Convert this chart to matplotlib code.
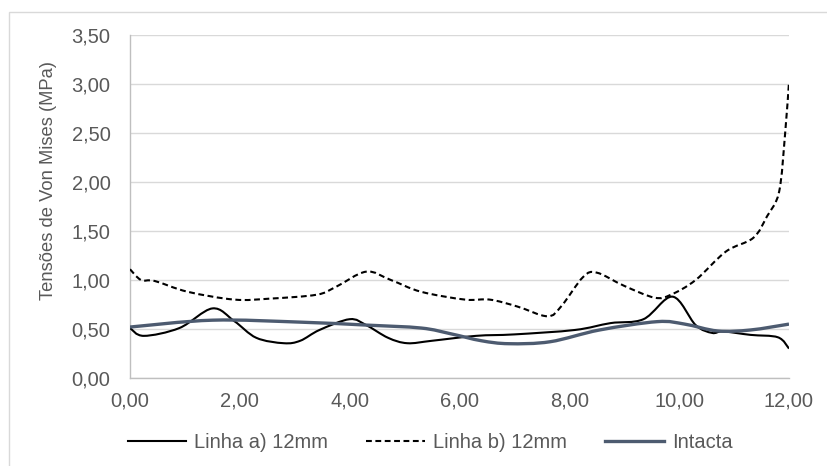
import matplotlib
matplotlib.use("Agg")
import matplotlib.pyplot as plt
from matplotlib.path import Path
from matplotlib.patches import PathPatch, Rectangle
from matplotlib.lines import Line2D
from matplotlib.ticker import FuncFormatter, MultipleLocator

plt.rcParams['font.family'] = ['Liberation Sans', 'DejaVu Sans']

# Von Mises stress along each line (position in mm, stress in MPa)
linha_a_x = [0, 0.25, 0.9, 1.5, 1.9, 2.3, 2.8, 3.1, 3.45, 4.0, 4.3, 4.7, 5.05, 5.5,
             6.3, 7.0, 8.1, 8.75, 9.35, 9.88, 10.3, 10.6, 10.8, 11.3, 11.8, 12.0]
linha_a_y = [0.51, 0.43, 0.51, 0.71, 0.58, 0.41, 0.355, 0.38, 0.49, 0.60, 0.54, 0.41,
             0.355, 0.38, 0.43, 0.445, 0.49, 0.56, 0.60, 0.83, 0.54, 0.46, 0.475, 0.44,
             0.415, 0.30]

linha_b_x = [0, 0.2, 0.45, 1.05, 1.9, 2.55, 3.4, 3.75, 4.3, 4.75, 5.3, 6.1, 6.55, 7.05,
             7.6, 7.85, 8.25, 8.5, 9.0, 9.55, 9.85, 10.3, 10.85, 11.35, 11.6, 11.82,
             11.93, 12.0]
linha_b_y = [1.11, 1.00, 0.99, 0.88, 0.80, 0.81, 0.85, 0.93, 1.085, 1.00, 0.88, 0.80,
             0.80, 0.73, 0.63, 0.73, 1.03, 1.075, 0.94, 0.82, 0.85, 1.00, 1.29, 1.43,
             1.65, 1.90, 2.50, 3.02]

intacta_x = [0, 1.5, 3.1, 4.3, 5.3, 5.85, 6.4, 6.9, 7.65, 8.55, 9.6, 10.1, 10.7, 11.3, 12.0]
intacta_y = [0.52, 0.59, 0.57, 0.54, 0.51, 0.45, 0.38, 0.35, 0.37, 0.49, 0.575, 0.55,
             0.48, 0.49, 0.55]

series_labels = ["Linha a) 12mm", "Linha b) 12mm", "Intacta"]

TEXT_COLOR = "#595959"
GRID_COLOR = "#d9d9d9"
INTACTA_COLOR = "#4d5b70"
FONT_SIZE = 14.5


def smooth_path(xs, ys):
    """Cubic Bezier path through the points (Catmull-Rom tangents)."""
    pts = list(zip(xs, ys))
    n = len(pts)
    verts = [pts[0]]
    codes = [Path.MOVETO]
    for i in range(n - 1):
        p0 = pts[i - 1] if i > 0 else pts[i]
        p1 = pts[i]
        p2 = pts[i + 1]
        p3 = pts[i + 2] if i + 2 < n else pts[i + 1]
        c1 = (p1[0] + (p2[0] - p0[0]) / 6.0, p1[1] + (p2[1] - p0[1]) / 6.0)
        c2 = (p2[0] - (p3[0] - p1[0]) / 6.0, p2[1] - (p3[1] - p1[1]) / 6.0)
        verts += [c1, c2, p2]
        codes += [Path.CURVE4] * 3
    return Path(verts, codes)


fig = plt.figure(figsize=(8.28, 4.66), dpi=100)
ax = fig.add_axes([130 / 828, 1 - 378 / 466, 659 / 828, 343 / 466])

styles = [
    dict(color="black", lw=1.5, linestyle="-"),
    dict(color="black", lw=1.5, linestyle=(0, (2.8, 1.7))),
    dict(color=INTACTA_COLOR, lw=2.4, linestyle="-"),
]
data = [(linha_a_x, linha_a_y), (linha_b_x, linha_b_y), (intacta_x, intacta_y)]
order = [2, 0, 1]
for k in order:
    xs, ys = data[k]
    st = styles[k]
    patch = PathPatch(smooth_path(xs, ys), fill=False, edgecolor=st["color"],
                      lw=st["lw"], linestyle=st["linestyle"], capstyle="butt",
                      joinstyle="round", zorder=3 + k)
    ax.add_patch(patch)

ax.set_xlim(0, 12)
ax.set_ylim(0, 3.5)
ax.xaxis.set_major_locator(MultipleLocator(2))
ax.yaxis.set_major_locator(MultipleLocator(0.5))
fmt = FuncFormatter(lambda v, p: f"{v:.2f}".replace(".", ","))
ax.xaxis.set_major_formatter(fmt)
ax.yaxis.set_major_formatter(fmt)

ax.grid(axis="y", color=GRID_COLOR, lw=1.0)
ax.set_axisbelow(True)
for s in ["top", "right"]:
    ax.spines[s].set_visible(False)
for s in ["left", "bottom"]:
    ax.spines[s].set_color("#bfbfbf")
    ax.spines[s].set_linewidth(1.0)
ax.tick_params(axis="both", length=0, labelsize=FONT_SIZE, colors=TEXT_COLOR)
ax.tick_params(axis="y", pad=14)
ax.tick_params(axis="x", pad=10)

fig.text(49 / 828, 1 - 180 / 466, "Tensões de Von Mises (MPa)", rotation=90,
         ha="center", va="center", fontsize=13.2, color=TEXT_COLOR)

handles = [Line2D([], [], color=styles[k]["color"], lw=styles[k]["lw"],
                  linestyle=styles[k]["linestyle"]) for k in range(3)]
leg = fig.legend(handles, series_labels, loc="center", ncol=3,
                 bbox_to_anchor=(430 / 828, 1 - 443 / 466), frameon=False,
                 fontsize=FONT_SIZE, handlelength=2.9, handletextpad=0.4,
                 columnspacing=1.9, borderpad=0.0)
for t in leg.get_texts():
    t.set_color(TEXT_COLOR)

# chart frame
fig.patches.append(Rectangle((9 / 828, -0.1), 1.2, 1.1 - 12 / 466,
                             transform=fig.transFigure, fill=False,
                             edgecolor=GRID_COLOR, lw=1.0))

fig.savefig("out.png", dpi=100)
